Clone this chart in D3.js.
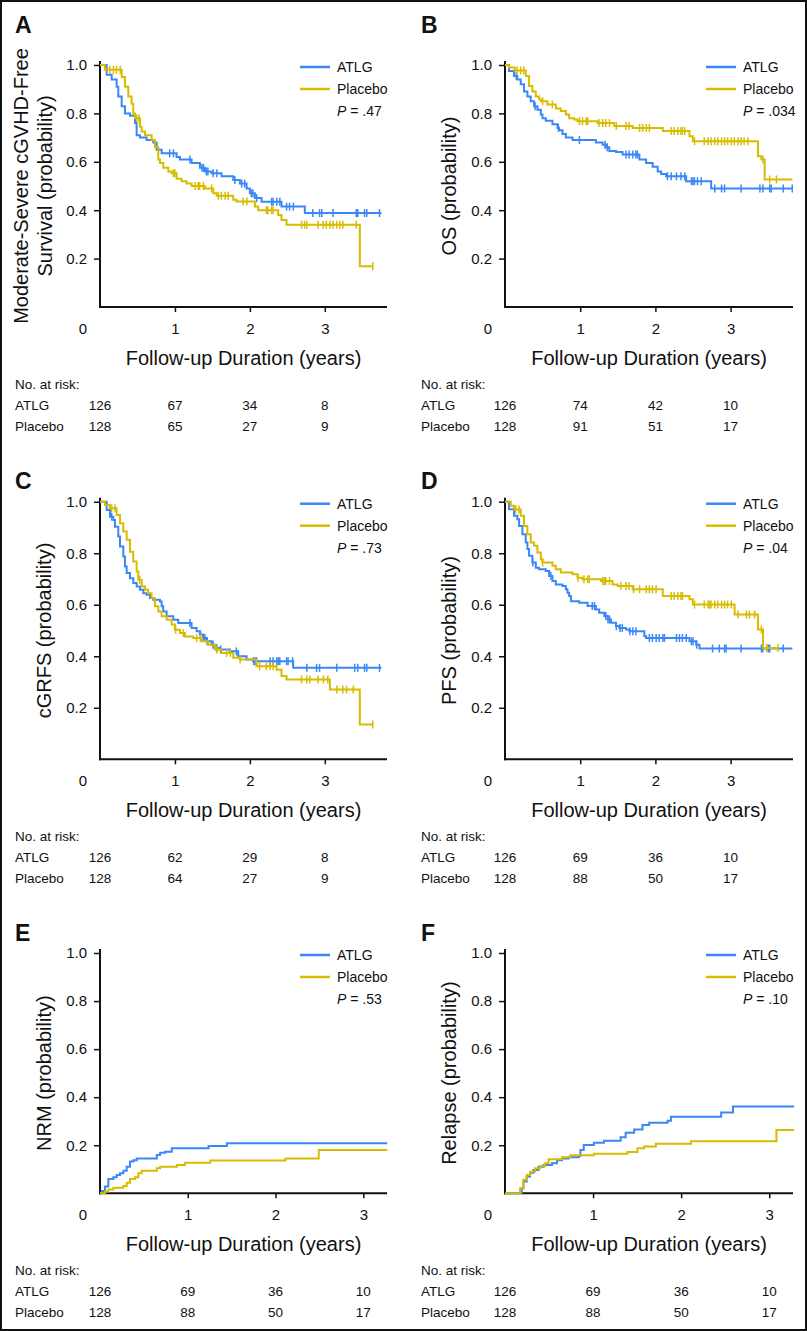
<!DOCTYPE html>
<html><head><meta charset="utf-8">
<script src="https://cdn.jsdelivr.net/npm/d3@7"></script>
<style>
body{margin:0;background:#fff}
svg{display:block}
text{font-family:"Liberation Sans",Arial,Helvetica,sans-serif;fill:#111}
</style>
</head><body>
<svg id="c" width="807" height="1331"></svg>
<script>
// ---------- DATA ----------
const groups = ["ATLG", "Placebo"];
const panelLetters = ["A", "B", "C", "D", "E", "F"];
const pValues = [".47", ".034", ".73", ".04", ".53", ".10"];
const yTitles = [
  ["Moderate-Severe cGVHD-Free", "Survival (probability)"],
  ["OS (probability)"],
  ["cGRFS (probability)"],
  ["PFS (probability)"],
  ["NRM (probability)"],
  ["Relapse (probability)"]
];
const xTitle = "Follow-up Duration (years)";
const xTicks = [1, 2, 3];
const yTicks = [0.2, 0.4, 0.6, 0.8, 1.0];
const riskTimes = [0, 1, 2, 3];

// step curves: [time (years), probability after step]
const A_atlg = [[0,1],[0.089,0.96],[0.156,0.94],[0.222,0.91],[0.244,0.87],[0.289,0.83],[0.333,0.80],[0.40,0.79],[0.467,0.76],[0.489,0.71],[0.533,0.70],[0.622,0.69],[0.711,0.68],[0.756,0.65],[0.822,0.635],[1.022,0.62],[1.067,0.61],[1.222,0.595],[1.333,0.575],[1.40,0.56],[1.489,0.553],[1.622,0.54],[1.778,0.525],[1.867,0.51],[1.956,0.49],[2.0,0.47],[2.067,0.45],[2.156,0.435],[2.422,0.415],[2.733,0.388],[3.756,0.388]];
const A_plac = [[0,1],[0.067,0.98],[0.289,0.95],[0.333,0.91],[0.378,0.87],[0.422,0.84],[0.444,0.80],[0.467,0.78],[0.533,0.745],[0.556,0.725],[0.60,0.71],[0.689,0.69],[0.733,0.66],[0.778,0.61],[0.80,0.595],[0.844,0.575],[0.911,0.56],[0.956,0.553],[1.022,0.53],[1.089,0.52],[1.156,0.51],[1.222,0.5],[1.40,0.49],[1.511,0.47],[1.556,0.46],[1.778,0.443],[1.822,0.436],[2.067,0.415],[2.111,0.40],[2.378,0.38],[2.422,0.36],[2.489,0.34],[3.467,0.168],[3.644,0.168]];
const B_atlg = [[0,1],[0.053,0.975],[0.12,0.955],[0.164,0.94],[0.209,0.92],[0.253,0.89],[0.298,0.87],[0.342,0.85],[0.387,0.83],[0.431,0.815],[0.476,0.795],[0.498,0.78],[0.542,0.77],[0.631,0.755],[0.698,0.74],[0.72,0.73],[0.764,0.715],[0.809,0.70],[0.898,0.69],[1.209,0.68],[1.298,0.67],[1.342,0.66],[1.387,0.645],[1.476,0.64],[1.564,0.63],[1.787,0.61],[1.876,0.595],[1.964,0.58],[2.031,0.56],[2.076,0.55],[2.142,0.54],[2.409,0.52],[2.742,0.49],[3.822,0.49]];
const B_plac = [[0,1],[0.053,0.99],[0.13,0.977],[0.276,0.955],[0.32,0.913],[0.364,0.89],[0.409,0.87],[0.453,0.858],[0.476,0.85],[0.564,0.837],[0.676,0.82],[0.742,0.81],[0.809,0.795],[0.853,0.78],[0.92,0.775],[0.964,0.768],[1.231,0.76],[1.453,0.748],[1.698,0.74],[2.098,0.727],[2.453,0.706],[2.498,0.685],[3.364,0.623],[3.409,0.61],[3.453,0.527],[3.822,0.527]];
const C_atlg = [[0,1],[0.089,0.968],[0.133,0.942],[0.178,0.929],[0.2,0.903],[0.244,0.865],[0.267,0.826],[0.311,0.787],[0.333,0.748],[0.356,0.723],[0.4,0.703],[0.444,0.684],[0.489,0.671],[0.533,0.658],[0.578,0.645],[0.622,0.639],[0.667,0.626],[0.711,0.619],[0.8,0.613],[0.822,0.594],[0.844,0.574],[0.889,0.555],[0.978,0.542],[1.044,0.529],[1.222,0.51],[1.289,0.497],[1.333,0.484],[1.378,0.471],[1.422,0.458],[1.489,0.445],[1.533,0.432],[1.6,0.426],[1.733,0.419],[1.844,0.40],[1.956,0.387],[2.044,0.381],[2.578,0.355],[3.756,0.355]];
const C_plac = [[0,1],[0.067,0.987],[0.13,0.975],[0.222,0.948],[0.267,0.916],[0.311,0.884],[0.356,0.852],[0.4,0.806],[0.444,0.768],[0.489,0.729],[0.511,0.697],[0.556,0.671],[0.6,0.658],[0.644,0.645],[0.689,0.626],[0.733,0.594],[0.778,0.574],[0.822,0.555],[0.889,0.542],[0.956,0.523],[1.0,0.503],[1.067,0.49],[1.133,0.477],[1.244,0.471],[1.356,0.458],[1.444,0.445],[1.533,0.426],[1.622,0.413],[1.778,0.394],[1.867,0.387],[2.089,0.361],[2.356,0.348],[2.422,0.323],[2.489,0.31],[3.067,0.271],[3.467,0.135],[3.644,0.135]];
const D_atlg = [[0,1],[0.053,0.971],[0.12,0.945],[0.164,0.932],[0.187,0.906],[0.231,0.874],[0.276,0.842],[0.298,0.816],[0.32,0.79],[0.364,0.764],[0.409,0.744],[0.453,0.738],[0.542,0.731],[0.587,0.712],[0.631,0.692],[0.676,0.679],[0.764,0.673],[0.809,0.66],[0.831,0.647],[0.853,0.634],[0.876,0.614],[0.987,0.608],[1.098,0.595],[1.209,0.582],[1.253,0.569],[1.32,0.556],[1.364,0.543],[1.409,0.53],[1.476,0.517],[1.52,0.51],[1.609,0.504],[1.653,0.497],[1.853,0.478],[1.876,0.471],[2.453,0.458],[2.542,0.445],[2.587,0.43],[3.822,0.43]];
const D_plac = [[0,1],[0.076,0.984],[0.12,0.97],[0.209,0.945],[0.253,0.906],[0.298,0.874],[0.342,0.842],[0.387,0.829],[0.431,0.803],[0.476,0.777],[0.498,0.764],[0.631,0.751],[0.676,0.738],[0.742,0.725],[0.898,0.718],[0.964,0.705],[1.031,0.699],[1.276,0.692],[1.431,0.679],[1.498,0.673],[1.698,0.66],[2.098,0.634],[2.453,0.621],[2.498,0.601],[3.053,0.562],[3.364,0.504],[3.431,0.432],[3.631,0.432]];
const E_atlg = [[0,0],[0.02,0.01],[0.057,0.028],[0.095,0.06],[0.152,0.067],[0.19,0.076],[0.228,0.083],[0.266,0.094],[0.304,0.111],[0.342,0.132],[0.38,0.138],[0.418,0.145],[0.647,0.159],[0.685,0.169],[0.742,0.173],[0.818,0.187],[1.237,0.197],[1.446,0.208],[3.273,0.208]];
const E_plac = [[0,0],[0.057,0.007],[0.095,0.016],[0.152,0.023],[0.266,0.03],[0.304,0.044],[0.342,0.06],[0.4,0.067],[0.437,0.083],[0.475,0.094],[0.647,0.104],[0.685,0.111],[0.875,0.118],[0.97,0.127],[1.256,0.136],[2.112,0.145],[2.492,0.18],[3.273,0.18]];
const F_atlg = [[0,0],[0.19,0.021],[0.209,0.049],[0.247,0.07],[0.285,0.086],[0.323,0.097],[0.381,0.111],[0.438,0.118],[0.533,0.125],[0.59,0.138],[0.647,0.145],[0.723,0.15],[0.837,0.155],[0.856,0.18],[0.894,0.201],[1.009,0.21],[1.123,0.219],[1.313,0.233],[1.37,0.252],[1.466,0.266],[1.561,0.284],[1.637,0.294],[1.846,0.302],[1.884,0.319],[2.454,0.336],[2.588,0.361],[3.284,0.361]];
const F_plac = [[0,0],[0.171,0.021],[0.209,0.056],[0.247,0.076],[0.285,0.09],[0.342,0.104],[0.4,0.114],[0.457,0.125],[0.495,0.142],[0.647,0.15],[0.742,0.158],[1.009,0.165],[1.389,0.172],[1.503,0.187],[1.58,0.195],[1.713,0.206],[2.112,0.217],[3.082,0.263],[3.284,0.263]];

// censoring times (years)
const A_atlgCens = [0.93,0.98,1.2,1.36,1.38,1.42,1.44,1.51,1.56,1.8,1.89,1.93,2.02,2.04,2.09,2.29,2.31,2.36,2.4,2.49,2.53,2.58,2.84,2.93,2.96,3.11,3.42,3.44,3.53,3.56,3.73];
const A_placCens = [0.13,0.18,0.22,0.27,0.49,0.52,0.98,1.0,1.27,1.31,1.33,1.38,1.49,1.58,1.62,1.67,1.71,1.91,1.96,2.22,2.24,2.29,2.31,2.69,2.73,2.76,2.91,2.98,3.02,3.07,3.11,3.16,3.2,3.24,3.42,3.64];
const B_atlgCens = [0.15,0.40,0.71,0.99,1.33,1.36,1.61,1.65,1.70,1.74,1.76,2.16,2.21,2.28,2.34,2.39,2.48,2.50,2.52,2.56,2.61,2.79,2.88,2.92,3.14,3.39,3.43,3.52,3.54,3.70,3.82];
const B_placCens = [0.16,0.21,0.25,0.50,0.63,0.99,1.03,1.08,1.10,1.25,1.30,1.34,1.39,1.48,1.61,1.65,1.79,1.83,1.88,1.92,2.21,2.25,2.30,2.34,2.36,2.39,2.52,2.65,2.70,2.74,2.79,2.83,2.88,2.92,2.96,3.01,3.05,3.10,3.14,3.18,3.23,3.43,3.52,3.61];
const C_atlgCens = [0.156,1.2,1.34,1.38,1.4,1.43,1.51,1.556,1.61,1.82,2.05,2.07,2.09,2.27,2.31,2.36,2.38,2.4,2.49,2.51,2.57,2.76,2.89,2.93,3.16,3.4,3.44,3.53,3.56,3.73];
const C_placCens = [0.156,0.2,0.53,1.01,1.11,1.29,1.34,1.56,1.69,1.74,1.87,2.13,2.22,2.27,2.31,2.69,2.76,2.8,2.91,2.98,3.04,3.16,3.24,3.29,3.38,3.64];
const D_atlgCens = [0.37,0.61,1.16,1.19,1.34,1.37,1.39,1.48,1.53,1.56,1.66,1.70,1.74,1.92,1.96,2.01,2.05,2.10,2.12,2.28,2.32,2.36,2.41,2.48,2.50,2.55,2.76,2.85,2.92,2.94,3.14,3.41,3.43,3.50,3.52,3.70];
const D_placCens = [0.142,0.187,0.5,0.97,1.05,1.10,1.12,1.30,1.32,1.34,1.39,1.54,1.61,1.65,1.71,1.79,1.88,1.92,1.96,2.01,2.21,2.25,2.30,2.34,2.36,2.52,2.65,2.70,2.72,2.74,2.79,2.83,2.88,2.92,2.96,3.01,3.10,3.21,3.25,3.32,3.41,3.48,3.63];
const E_atlgCens = [];
const E_placCens = [];
const F_atlgCens = [];
const F_placCens = [];

// numbers at risk at 0,1,2,3 years
const A_riskAtlg = [126, 67, 34, 8],  A_riskPlac = [128, 65, 27, 9];
const B_riskAtlg = [126, 74, 42, 10], B_riskPlac = [128, 91, 51, 17];
const C_riskAtlg = [126, 62, 29, 8],  C_riskPlac = [128, 64, 27, 9];
const D_riskAtlg = [126, 69, 36, 10], D_riskPlac = [128, 88, 50, 17];
const E_riskAtlg = [126, 69, 36, 10], E_riskPlac = [128, 88, 50, 17];
const F_riskAtlg = [126, 69, 36, 10], F_riskPlac = [128, 88, 50, 17];

const xMaxByRow = [3.83, 3.83, 3.27];

// ---------- assemble ----------
const panels = [
  {curves:[A_atlg, A_plac], cens:[A_atlgCens, A_placCens], risk:[A_riskAtlg, A_riskPlac]},
  {curves:[B_atlg, B_plac], cens:[B_atlgCens, B_placCens], risk:[B_riskAtlg, B_riskPlac]},
  {curves:[C_atlg, C_plac], cens:[C_atlgCens, C_placCens], risk:[C_riskAtlg, C_riskPlac]},
  {curves:[D_atlg, D_plac], cens:[D_atlgCens, D_placCens], risk:[D_riskAtlg, D_riskPlac]},
  {curves:[E_atlg, E_plac], cens:[E_atlgCens, E_placCens], risk:[E_riskAtlg, E_riskPlac]},
  {curves:[F_atlg, F_plac], cens:[F_atlgCens, F_placCens], risk:[F_riskAtlg, F_riskPlac]}
];

const colors = ["#3a87f7", "#d8bc00"];
const cols = [{x0:100, x1:387, left:15}, {x0:505, x1:793, left:421}];
const rows = [{top:65, axis:307, lab:33}, {top:501.7, axis:759.3, lab:489}, {top:953, axis:1193.3, lab:941}];

const svg = d3.select("#c");
svg.append("rect").attr("x",1).attr("y",1).attr("width",805).attr("height",1329)
   .attr("fill","#fff").attr("stroke","#111").attr("stroke-width",2);

function stepVal(data, t){
  let v = data[0][1];
  for (const d of data){ if (d[0] <= t) v = d[1]; else break; }
  return v;
}

panels.forEach((p, i) => {
  const c = cols[i % 2], r = rows[Math.floor(i / 2)];
  const x = d3.scaleLinear().domain([0, xMaxByRow[Math.floor(i/2)]]).range([c.x0, c.x1]);
  const y = d3.scaleLinear().domain([0, 1]).range([r.axis, r.top]);
  const g = svg.append("g");

  // panel letter
  g.append("text").attr("x", c.left).attr("y", r.lab)
    .style("font-weight", "bold").style("font-size", "23px").text(panelLetters[i]);

  // y axis
  const gy = g.append("g").attr("transform", `translate(${c.x0},0)`)
    .call(d3.axisLeft(y).tickValues(yTicks).tickSize(6).tickPadding(7).tickFormat(d3.format(".1f")));
  gy.attr("font-size", null).attr("font-family", null);
  gy.select(".domain").remove();
  gy.selectAll(".tick line").attr("stroke", "#111").attr("stroke-width", 1.5);
  gy.selectAll(".tick text").style("font-size", "15px");

  // x axis
  const gx = g.append("g").attr("transform", `translate(0,${r.axis})`)
    .call(d3.axisBottom(x).tickValues(xTicks).tickSize(5).tickFormat(d3.format("d")));
  gx.attr("font-size", null).attr("font-family", null);
  gx.select(".domain").remove();
  gx.selectAll(".tick line").attr("stroke", "#111").attr("stroke-width", 1.5);
  gx.selectAll(".tick text").attr("y", 27).attr("dy", null).style("font-size", "15px");

  // axis lines
  g.append("line").attr("x1", c.x0).attr("x2", c.x0).attr("y1", r.top - 4).attr("y2", r.axis + 1)
    .attr("stroke", "#111").attr("stroke-width", 2);
  g.append("line").attr("x1", c.x0 - 1).attr("x2", c.x1).attr("y1", r.axis).attr("y2", r.axis)
    .attr("stroke", "#111").attr("stroke-width", 2);

  // origin label
  g.append("text").attr("x", x(0) - 17).attr("y", r.axis + 27).attr("text-anchor", "middle")
    .style("font-size", "15px").text("0");

  // x title
  g.append("text").attr("x", (c.x0 + c.x1) / 2).attr("y", r.axis + 58).attr("text-anchor", "middle")
    .style("font-size", "20px").text(xTitle);

  // y title
  const yc = (r.top + r.axis) / 2;
  const lines = yTitles[i];
  lines.forEach((t, k) => {
    const off = lines.length === 2 ? (k === 0 ? 72 : 48) : 49;
    g.append("text").attr("transform", `translate(${c.x0 - off},${yc}) rotate(-90)`)
      .attr("text-anchor", "middle").style("font-size", "20px").text(t);
  });

  // curves
  const line = d3.line().x(d => x(d[0])).y(d => y(d[1])).curve(d3.curveStepAfter);
  p.curves.forEach((data, k) => {
    g.append("path").datum(data).attr("d", line).attr("fill", "none")
      .attr("stroke", colors[k]).attr("stroke-width", 2);
    g.selectAll(null).data(p.cens[k]).enter().append("line")
      .attr("x1", d => x(d)).attr("x2", d => x(d))
      .attr("y1", d => y(stepVal(data, d)) - 4).attr("y2", d => y(stepVal(data, d)) + 4)
      .attr("stroke", colors[k]).attr("stroke-width", 1.5);
  });

  // legend
  groups.forEach((name, k) => {
    const ly = r.top + 2 + k * 22;
    g.append("line").attr("x1", c.x1 - 87).attr("x2", c.x1 - 57).attr("y1", ly).attr("y2", ly)
      .attr("stroke", colors[k]).attr("stroke-width", 2.5);
    g.append("text").attr("x", c.x1 - 50).attr("y", ly + 5).style("font-size", "14px").text(name);
  });
  const pt = g.append("text").attr("x", c.x1 - 50).attr("y", r.top + 46 + 5).style("font-size", "14px");
  pt.append("tspan").style("font-style", "italic").text("P");
  pt.append("tspan").text(" = " + pValues[i]);

  // numbers at risk
  g.append("text").attr("x", c.left).attr("y", r.axis + 82).style("font-size", "13.5px").text("No. at risk:");
  groups.forEach((name, k) => {
    const ry = r.axis + 103 + k * 20.6;
    g.append("text").attr("x", c.left).attr("y", ry).style("font-size", "13.5px").text(name);
    g.selectAll(null).data(p.risk[k]).enter().append("text")
      .attr("x", (d, j) => x(riskTimes[j])).attr("y", ry).attr("text-anchor", "middle")
      .style("font-size", "13.5px").text(d => d);
  });
});
</script>
</body></html>
